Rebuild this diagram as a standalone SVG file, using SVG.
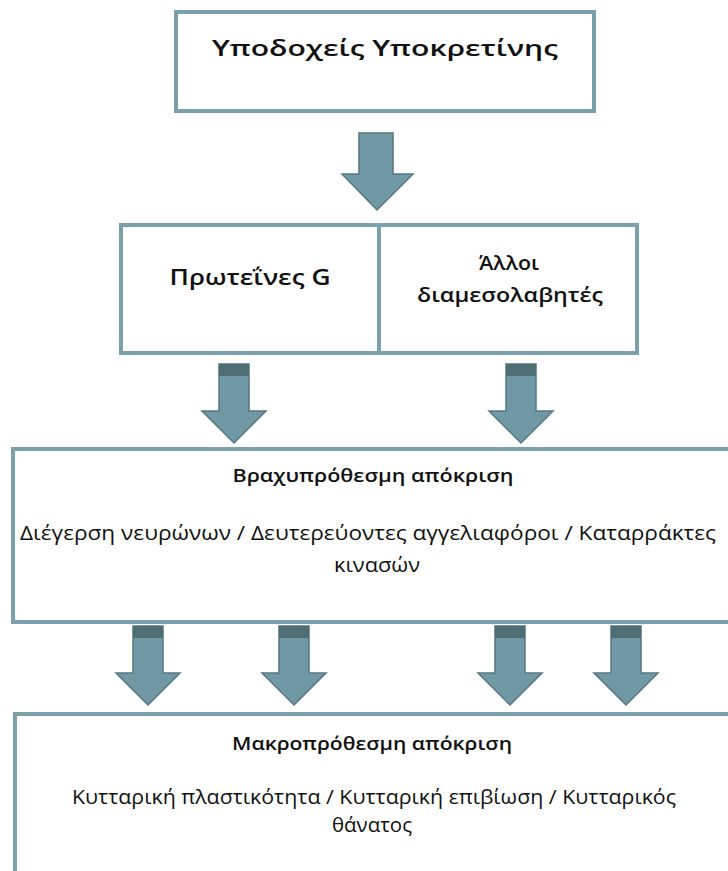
<svg xmlns="http://www.w3.org/2000/svg" width="728" height="871" viewBox="0 0 728 871">
<defs>
<style>
.box{fill:#ffffff;stroke:#7ba0ac;stroke-width:4}
.arr{fill:#7199a5;stroke:#557780;stroke-width:1.5;stroke-linejoin:miter}
.band{fill:#4f6d75}
.t{font-family:"Open Sans","Noto Sans","DejaVu Sans",sans-serif;fill:#111;text-anchor:middle}
.b{font-weight:600}
</style>
<g id="arrow">
<path class="arr" d="M-15,0 H15 V47 H32 L0,79 L-32,47 H-15 Z"/>
<rect class="band" x="-15" y="0" width="30" height="12"/>
</g>
</defs>
<rect width="728" height="871" fill="#ffffff"/>

<g id="connectors">
<path class="arr" d="M359,133 H393 V174 H413 L377,210 L342,174 H359 Z"/>
<use href="#arrow" x="234" y="364"/>
<use href="#arrow" x="521" y="364"/>
<use href="#arrow" x="148" y="626"/>
<use href="#arrow" x="294" y="626"/>
<use href="#arrow" x="510" y="626"/>
<use href="#arrow" x="626" y="626"/>
</g>

<g id="receptors">
<rect class="box" x="176" y="12" width="418" height="99"/>
<text class="t b" x="385" y="56" font-size="22" textLength="346" lengthAdjust="spacingAndGlyphs">Υποδοχείς Υποκρετίνης</text>
</g>

<g id="gproteins">
<rect class="box" x="121" y="225" width="258" height="128"/>
<text class="t b" x="250" y="285" font-size="21" textLength="161" lengthAdjust="spacingAndGlyphs">Πρωτεΐνες G</text>
</g>

<g id="mediators">
<rect class="box" x="379" y="225" width="258" height="128"/>
<text class="t b" x="509" y="270" font-size="19" textLength="60" lengthAdjust="spacingAndGlyphs">Άλλοι</text>
<text class="t b" x="510" y="302" font-size="19" textLength="186" lengthAdjust="spacingAndGlyphs">διαμεσολαβητές</text>
</g>

<g id="shortterm">
<rect class="box" x="13" y="449" width="740" height="173"/>
<text class="t b" x="373" y="482" font-size="18" textLength="281" lengthAdjust="spacingAndGlyphs">Βραχυπρόθεσμη απόκριση</text>
<text class="t" x="368" y="540" font-size="20" textLength="696" lengthAdjust="spacingAndGlyphs">Διέγερση νευρώνων / Δευτερεύοντες αγγελιαφόροι / Καταρράκτες</text>
<text class="t" x="377" y="572" font-size="20" textLength="86" lengthAdjust="spacingAndGlyphs">κινασών</text>
</g>

<g id="longterm">
<rect class="box" x="15" y="714" width="740" height="200"/>
<text class="t b" x="372" y="750" font-size="18" textLength="280" lengthAdjust="spacingAndGlyphs">Μακροπρόθεσμη απόκριση</text>
<text class="t" x="374" y="804" font-size="20" textLength="604" lengthAdjust="spacingAndGlyphs">Κυτταρική πλαστικότητα / Κυτταρική επιβίωση / Κυτταρικός</text>
<text class="t" x="372" y="832" font-size="20" textLength="80" lengthAdjust="spacingAndGlyphs">θάνατος</text>
</g>
</svg>
